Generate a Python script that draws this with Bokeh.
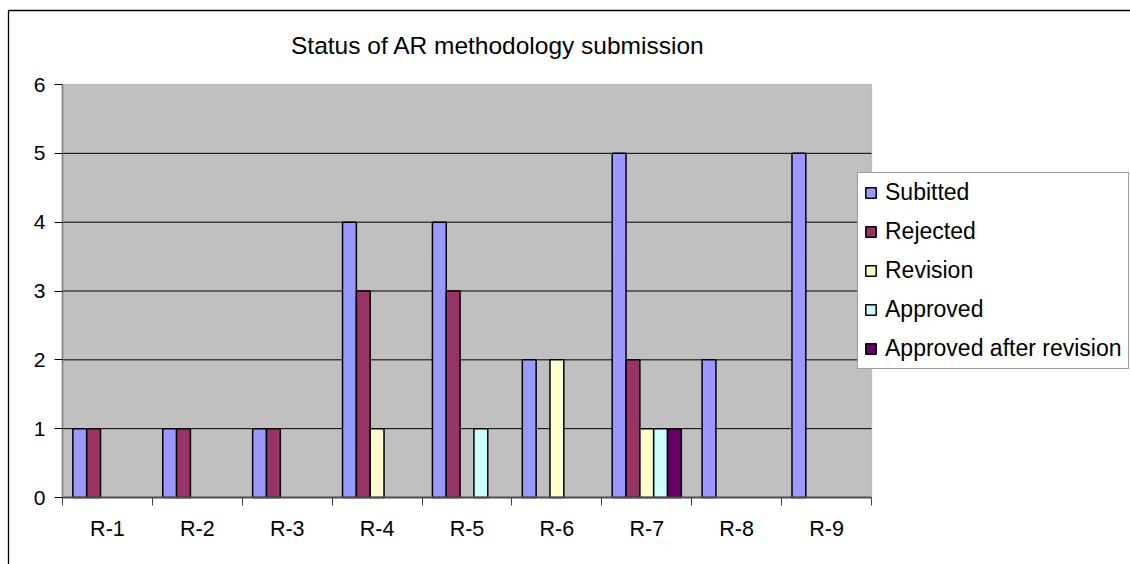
from bokeh.plotting import figure
from bokeh.models import (ColumnDataSource, FixedTicker, Legend, LegendItem, Label,
                          Range1d, BoxAnnotation, Arrow)
from bokeh.embed import file_html
from bokeh.resources import INLINE

categories = ["R-1", "R-2", "R-3", "R-4", "R-5", "R-6", "R-7", "R-8", "R-9"]
series_names = ["Subitted", "Rejected", "Revision", "Approved", "Approved after revision"]
subitted = [1, 1, 1, 4, 4, 2, 5, 2, 5]
rejected = [1, 1, 1, 3, 3, 0, 2, 0, 0]
revision = [0, 0, 0, 1, 0, 2, 1, 0, 0]
approved = [0, 0, 0, 0, 1, 0, 1, 0, 0]
approved_after_revision = [0, 0, 0, 0, 0, 0, 1, 0, 0]
colors = ["#9999FF", "#993366", "#FFFFCC", "#CCFFFF", "#660066"]
y_ticks = [0, 1, 2, 3, 4, 5, 6]
title_text = "Status of AR methodology submission"

series_values = [subitted, rejected, revision, approved, approved_after_revision]

FONT = "Liberation Sans"
W, H = 1130, 564
# plot-area placement on the canvas (pixels)
PA_L, PA_R, PA_T, PA_B = 62, 871, 84, 497
n = len(categories)
ymax = max(y_ticks)
ux = (PA_R - PA_L) / n
uy = (PA_B - PA_T) / ymax
x_start = -PA_L / ux
x_end = n + (W - PA_R) / ux
y_start = -(H - PA_B) / uy
y_end = ymax + PA_T / uy

def px_to_x(px):
    return (px - PA_L) / ux

def py_to_y(py):
    return (PA_B - py) / uy

bw = 1 / 6.5

p = figure(width=W, height=H, output_backend="svg", toolbar_location=None,
           x_range=Range1d(x_start, x_end), y_range=Range1d(y_start, y_end),
           min_border_left=0, min_border_right=0, min_border_top=0, min_border_bottom=0)
p.background_fill_color = "white"
p.border_fill_color = "white"
p.outline_line_color = None
p.xgrid.visible = False
p.ygrid.visible = False

# outer chart border (left and top edges)
bx, by = px_to_x(8), py_to_y(10)
p.add_layout(Arrow(x_start=bx, y_start=by, x_end=bx, y_end=y_start, end=None,
                   line_color="black", line_width=1.3))
p.add_layout(Arrow(x_start=bx, y_start=by, x_end=x_end, y_end=by, end=None,
                   line_color="black", line_width=1.3))

# plot area
p.add_layout(BoxAnnotation(left=0, right=n, bottom=0, top=ymax, fill_color="#C0C0C0",
                           fill_alpha=1, line_color="#808080", line_width=1.5,
                           level="underlay"))

# horizontal gridlines
grid_vals = [t for t in y_ticks if 0 < t < ymax]
gsrc = ColumnDataSource(dict(x0=[0] * len(grid_vals), x1=[n] * len(grid_vals),
                             y=grid_vals))
p.segment(x0="x0", x1="x1", y0="y", y1="y", source=gsrc, line_color="black", line_width=1)

items = []
for j, (name, vals, col) in enumerate(zip(series_names, series_values, colors)):
    xs = [i + 0.5 + (j - 2) * bw for i, v in enumerate(vals) if v != 0]
    tops = [v for v in vals if v != 0]
    src = ColumnDataSource(dict(x=xs, top=tops))
    r = p.vbar(x="x", top="top", bottom=0, width=bw, source=src,
               fill_color=col, line_color="black", line_width=1.5)
    items.append(LegendItem(label=name, renderers=[r]))

# y axis
yax = p.yaxis[0]
yax.fixed_location = 0
yax.bounds = (0, ymax)
yax.ticker = FixedTicker(ticks=y_ticks)
yax.axis_line_color = "#808080"
yax.axis_line_width = 1.5
yax.major_tick_out = 8
yax.major_tick_in = 0
yax.major_tick_line_color = "black"
yax.minor_tick_line_color = None
yax.major_label_standoff = 9
yax.major_label_text_font = FONT
yax.major_label_text_font_size = "21px"
yax.major_label_text_color = "black"

# x axis
centers = [i + 0.5 for i in range(n)]
bounds = [float(i) for i in range(n + 1)]
xax = p.xaxis[0]
xax.fixed_location = 0
xax.bounds = (0, n)
xax.ticker = FixedTicker(ticks=centers, minor_ticks=bounds)
xax.major_label_overrides = {c: lab for c, lab in zip(centers, categories)}
xax.axis_line_color = "#505050"
xax.axis_line_width = 2
xax.major_tick_out = 0
xax.major_tick_in = 0
xax.minor_tick_out = 8
xax.minor_tick_in = 0
xax.minor_tick_line_color = "#404040"
xax.major_label_standoff = 11
xax.major_label_text_font = FONT
xax.major_label_text_font_size = "21.5px"
xax.major_label_text_color = "black"

# title
p.add_layout(Label(x=497.5, y=H - 45, x_units="screen", y_units="screen", text=title_text,
                   text_align="center", text_baseline="alphabetic",
                   text_font=FONT, text_font_size="24.5px", text_color="black"))

legend = Legend(items=items, location=(857, H - 369))
legend.label_text_font = FONT
legend.label_text_font_size = "23px"
legend.label_text_color = "black"
legend.glyph_width = 13
legend.glyph_height = 13
legend.label_standoff = 8
legend.padding = 6
legend.spacing = 12
legend.label_height = 26
legend.margin = 0
legend.border_line_color = "#404040"
legend.border_line_width = 1
legend.background_fill_color = "white"
legend.background_fill_alpha = 1
p.add_layout(legend, "center")

open("out.html", "w").write(file_html(p, INLINE))
